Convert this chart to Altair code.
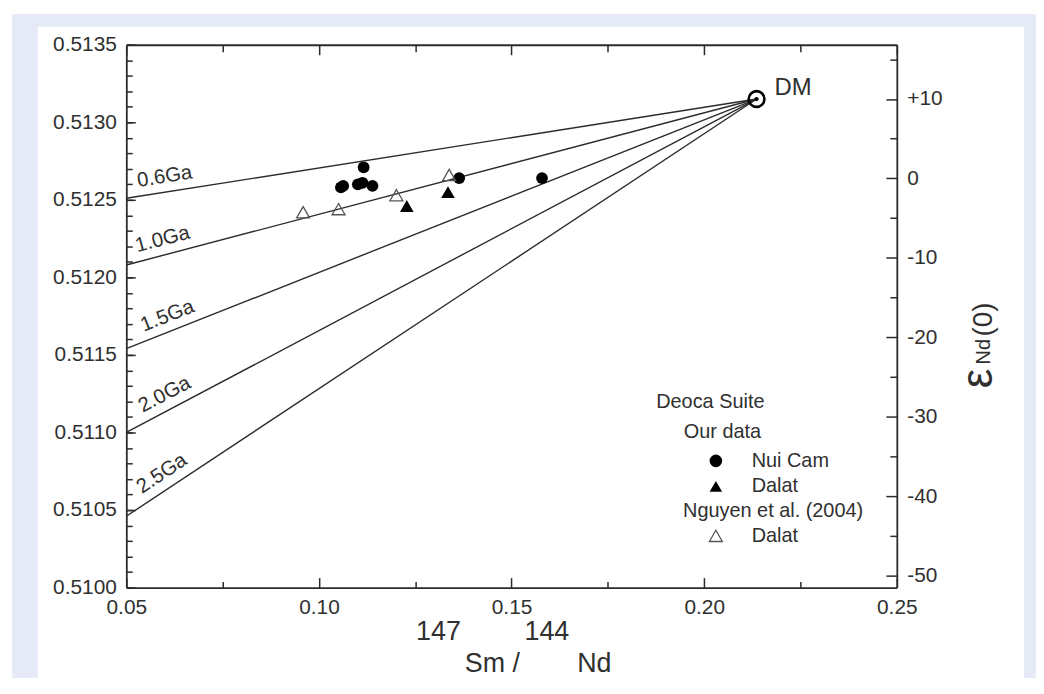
import altair as alt
import pandas as pd

# ---------------- data ----------------
ages = ["0.6Ga", "1.0Ga", "1.5Ga", "2.0Ga", "2.5Ga"]
iso_start_x = [0.05, 0.05, 0.05, 0.05, 0.05]
iso_start_y = [0.51251, 0.51208, 0.51154, 0.51100, 0.51046]
dm_x = 0.2136
dm_y = 0.51315

age_label_x = [0.0535, 0.0535, 0.0555, 0.0555, 0.0555]
age_label_y = [0.51252, 0.51210, 0.51159, 0.51107, 0.51055]

nuicam_x = [0.1057, 0.1063, 0.1101, 0.1113, 0.1116, 0.1139, 0.1364, 0.1579]
nuicam_y = [0.51258, 0.51259, 0.51260, 0.51261, 0.51271, 0.51259, 0.51264, 0.51264]

dalat_x = [0.1228, 0.1335]
dalat_y = [0.51246, 0.51255]

nguyen_x = [0.0959, 0.1051, 0.1201, 0.1338]
nguyen_y = [0.51242, 0.51244, 0.51253, 0.51266]

x_major = [0.05, 0.10, 0.15, 0.20, 0.25]
x_minor = [0.075, 0.125, 0.175, 0.225]
y_major = [0.5100, 0.5105, 0.5110, 0.5115, 0.5120, 0.5125, 0.5130, 0.5135]
y_minor = [round(0.5100 + i * 0.0001, 4) for i in range(36)]
eps_major = [-50, -40, -30, -20, -10, 0, 10]
eps_minor = [-45, -35, -25, -15, -5, 5, 15]

CHUR = 0.512638

# ---------------- styles ----------------
W, H = 775, 546
FONT = "Liberation Sans"
TXT = "#303030"
INK = "#2b2b2b"
BLUE = "#e6eaf6"
LABEL_ANGLES = [351.0, 345.2, 338.4, 332.1, 326.5]

xs = alt.Scale(domain=[0.05, 0.25], nice=False, zero=False)
ys = alt.Scale(domain=[0.5100, 0.5135], nice=False, zero=False)
es = alt.Scale(domain=[(0.5100 / CHUR - 1) * 1e4, (0.5135 / CHUR - 1) * 1e4], nice=False, zero=False)


def axis(**kw):
    d = dict(zindex=2, grid=False, labelFont=FONT, labelFontSize=21, labelColor=TXT,
             titleFont=FONT, titleColor=TXT, titleFontWeight="normal",
             domainColor=INK, domainWidth=1.8, tickColor=INK, tickWidth=1.5,
             labelFlush=False, labelOverlap=False, titleLimit=500)
    d.update(kw)
    return alt.Axis(**d)


def ticks_only(**kw):
    d = dict(labels=False, domain=False, ticks=True)
    d.update(kw)
    if "title" not in d:
        d["title"] = None
    return axis(**d)


# ---------------- tables ----------------
rows = []
for a, x0, y0 in zip(ages, iso_start_x, iso_start_y):
    rows.append({"age": a, "x": x0, "y": y0})
    rows.append({"age": a, "x": dm_x, "y": dm_y})
lines_df = pd.DataFrame(rows)

labels_df = pd.DataFrame({"age": ages, "x": age_label_x, "y": age_label_y, "ang": LABEL_ANGLES})

ours_df = pd.DataFrame({
    "x": nuicam_x + dalat_x,
    "y": nuicam_y + dalat_y,
    "grp": ["Nui Cam"] * len(nuicam_x) + ["Dalat"] * len(dalat_x),
})
ng_df = pd.DataFrame({"x": nguyen_x, "y": nguyen_y, "src": ["Dalat"] * len(nguyen_x)})
dm_df = pd.DataFrame({"x": [dm_x], "y": [dm_y], "name": ["DM"]})
one = pd.DataFrame({"a": [0]})
eps_df = pd.DataFrame({"e": eps_major})

X = lambda ax=None: alt.X("x:Q", scale=xs, axis=ax)
Y = lambda ax=None: alt.Y("y:Q", scale=ys, axis=ax)

# ---------------- layers ----------------
bg_blue = alt.Chart(one).mark_rect(color=BLUE).encode(
    x=alt.value(-115), x2=alt.value(930), y=alt.value(-31), y2=alt.value(700))
bg_white = alt.Chart(one).mark_rect(color="white").encode(
    x=alt.value(-89), x2=alt.value(903), y=alt.value(-18), y2=alt.value(700))

iso = alt.Chart(lines_df).mark_line(color=INK, strokeWidth=1.4).encode(
    x=X(), y=Y(), detail="age:N")

age_labels = alt.Chart(labels_df).mark_text(
    align="left", baseline="alphabetic", dy=-10, fontSize=20.5, font=FONT, color=TXT
).encode(x=X(), y=Y(), text="age:N", angle=alt.Angle("ang:Q", scale=None))

legA = alt.Legend(
    title=["Deoca Suite", "\u200b" + "\u00a0" * 5 + "Our data"], orient="none", legendX=533, legendY=349,
    zindex=3, padding=0, titleFont=FONT, titleFontSize=20, titleFontWeight="normal",
    titleColor=TXT, titleLineHeight=30.6, titlePadding=9, titleAlign="left", titleLimit=400,
    labelFont=FONT, labelFontSize=20, labelColor=TXT, symbolSize=160,
    symbolOffset=50, labelOffset=26, rowPadding=5.6, symbolStrokeWidth=1,
    symbolFillColor="black", symbolStrokeColor="black")
legB = alt.Legend(
    title="Nguyen et al. (2004)", orient="none", legendX=560, legendY=459,
    zindex=3, padding=0, titleFont=FONT, titleFontSize=20, titleFontWeight="normal",
    titleColor=TXT, titlePadding=5, titleAlign="left", titleLimit=400,
    labelFont=FONT, labelFontSize=20, labelColor=TXT, symbolSize=170,
    symbolOffset=23, labelOffset=26, symbolStrokeWidth=1.3, symbolStrokeColor="#555555")

ours = alt.Chart(ours_df).mark_point(filled=True, color="black", opacity=1).encode(
    x=X(), y=Y(),
    shape=alt.Shape("grp:N", scale=alt.Scale(domain=["Nui Cam", "Dalat"], range=["circle", "triangle-up"]), legend=legA),
    size=alt.Size("grp:N", scale=alt.Scale(domain=["Nui Cam", "Dalat"], range=[140, 190]), legend=None))

nguyen = alt.Chart(ng_df).mark_point(filled=False, color="#555555", strokeWidth=1.3, size=170, opacity=1).encode(
    x=X(), y=Y(),
    shape=alt.Shape("src:N", scale=alt.Scale(domain=["Dalat"], range=["triangle-up"]), legend=legB))

dm_ring = alt.Chart(dm_df).mark_point(shape="circle", filled=False, color="black", size=250, strokeWidth=2.6, opacity=1).encode(x=X(), y=Y())
dm_dot = alt.Chart(dm_df).mark_point(shape="circle", filled=True, color="black", size=18, opacity=1).encode(x=X(), y=Y())
dm_text = alt.Chart(dm_df).mark_text(align="left", baseline="middle", dx=18, dy=-11, fontSize=24, font=FONT, color=TXT).encode(
    x=X(), y=Y(), text="name:N")


def carrier(xax=None, yax=None):
    return alt.Chart(lines_df).mark_point(opacity=0).encode(x=X(xax), y=Y(yax))


TT = dict(titleFontSize=27, titleAlign="left", titleBaseline="alphabetic")

c1 = carrier(
    axis(orient="bottom", values=x_major, format=".2f", ticks=False, labelPadding=9,
         title="Sm /", titleX=340, titleY=84, **TT),
    axis(orient="left", values=y_major, format=".4f", ticks=False, labelPadding=10, title=None))
c2 = carrier(
    ticks_only(orient="bottom", values=x_major, tickSize=10, offset=-10, title="147", titleX=291, titleY=62, **TT),
    ticks_only(orient="left", values=y_major, tickSize=9, offset=-9))
c3 = carrier(
    ticks_only(orient="bottom", values=x_minor, tickSize=6, offset=-6, title="144", titleX=400, titleY=58, **TT),
    ticks_only(orient="left", values=y_minor, tickSize=6, offset=-6))
c4 = carrier(axis(orient="bottom", values=x_major, labels=False, ticks=False, domain=False,
                  title="Nd", titleX=453, titleY=84, **TT))
c5 = carrier(axis(orient="top", values=x_major, labels=False, ticks=False, domain=True, title=None))
c6 = carrier(ticks_only(orient="top", values=x_major, tickSize=10, offset=-10))
c7 = carrier(ticks_only(orient="top", values=x_minor, tickSize=7, offset=-7))

RT = dict(titleAngle=270, titleAlign="left", titleBaseline="alphabetic")
e1 = alt.Chart(eps_df).mark_point(opacity=0).encode(y=alt.Y("e:Q", scale=es, axis=axis(
    orient="right", values=eps_major, ticks=False, labelPadding=10, domain=True,
    labelExpr="datum.value > 0 ? '+' + datum.value : '' + datum.value",
    title="\u03b5", titleFontSize=44, titleX=95, titleY=345, **RT)))
e2 = alt.Chart(eps_df).mark_point(opacity=0).encode(y=alt.Y("e:Q", scale=es, axis=ticks_only(
    orient="right", values=eps_major, tickSize=11, offset=-11,
    title="Nd", titleFontSize=20, titleX=104, titleY=321, **RT)))
e3 = alt.Chart(eps_df).mark_point(opacity=0).encode(y=alt.Y("e:Q", scale=es, axis=ticks_only(
    orient="right", values=eps_minor, tickSize=7, offset=-7,
    title="(0)", titleFontSize=28, titleX=102, titleY=293, **RT)))

inner = alt.layer(bg_blue, bg_white, iso, age_labels, ours, nguyen, dm_ring, dm_dot, dm_text,
                  c1, c2, c3, c4, c5, c6, c7).resolve_scale(shape="independent").resolve_axis(
    x="independent", y="independent").resolve_legend(shape="independent")

chart = alt.layer(inner, e1, e2, e3).resolve_scale(y="independent").resolve_axis(
    x="independent", y="independent").properties(
    width=W, height=H,
    padding={"left": 119, "top": 35, "right": 140, "bottom": 89},
    autosize=alt.AutoSizeParams(type="none"),
    background="white",
).configure_view(stroke=None)

chart.save("out.html", embed_options={"renderer": "svg", "actions": False})
